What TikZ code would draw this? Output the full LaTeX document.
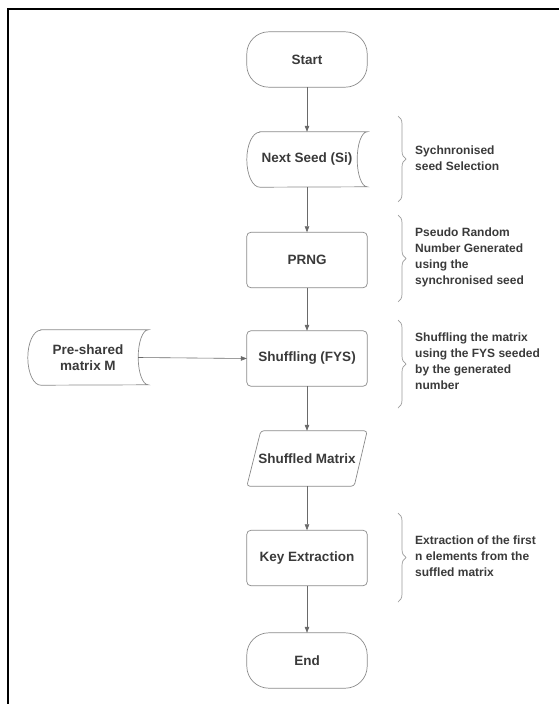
\documentclass[tikz,border=0pt]{standalone}
\usepackage{fontspec}
\setmainfont{Liberation Sans}
\usetikzlibrary{arrows.meta,decorations.pathreplacing,calc}
\definecolor{txt}{HTML}{3A3A3A}
\definecolor{edge}{HTML}{8A8A8A}
\definecolor{arr}{HTML}{6A6A6A}
\definecolor{brc}{HTML}{9A9A9A}
\tikzset{
  box/.style={draw=none,minimum width=120pt,minimum height=55pt,inner sep=0pt,
    font=\fontsize{13.5}{16}\selectfont\bfseries,text=txt,align=center},
  outline/.style={draw=edge,line width=0.7pt},
  flow/.style={draw=arr,line width=0.6pt,-{Triangle[length=6pt,width=4.5pt]}},
  bracestyle/.style={draw=brc,line width=0.7pt,decorate,decoration={brace,amplitude=8pt}},
  note/.style={anchor=west,inner sep=0pt,align=left,text=txt,
    font=\fontsize{12}{16}\selectfont\bfseries},
}
\begin{document}
\begin{tikzpicture}[x=1pt,y=-1pt]
\useasboundingbox (0,0) rectangle (559,704);
% frame
\draw[black,line width=1.8pt] (8,704) -- (8,9) -- (560,9);

% nodes
\node[box] (start) at (307,59.5) {Start};
\node[box] (seed) at (307,159.5) {Next Seed (Si)};
\node[box] (prng) at (307,260) {PRNG};
\node[box] (shuf) at (307,358.5) {Shuffling (FYS)};
\node[box] (pre) at (88,357.5) {Pre-shared\\matrix M};
\node[box] (smat) at (307,458.5) {Shuffled Matrix};
\node[box] (key) at (307,558) {Key Extraction};
\node[box] (end) at (307,660.5) {End};

% outlines
\draw[outline,rounded corners=22pt] (start.north west) rectangle (start.south east);
\draw[outline,rounded corners=22pt] (end.north west) rectangle (end.south east);
\draw[outline,rounded corners=4pt] (prng.north west) rectangle (prng.south east);
\draw[outline,rounded corners=4pt] (shuf.north west) rectangle (shuf.south east);
\draw[outline,rounded corners=4pt] (key.north west) rectangle (key.south east);
\draw[outline,rounded corners=3pt] ([xshift=14pt]smat.north west) -- (smat.north east)
  -- ([xshift=-13pt]smat.south east) -- (smat.south west) -- cycle;
\draw[outline] ([xshift=13pt]seed.north west) -- (seed.north east)
  arc[start angle=90,end angle=270,x radius=10pt,y radius=27.5pt]
  -- ([xshift=13pt]seed.south west)
  arc[start angle=270,end angle=90,x radius=13pt,y radius=27.5pt] -- cycle;
\draw[outline] ([xshift=13pt]pre.north west) -- (pre.north east)
  arc[start angle=90,end angle=270,x radius=10pt,y radius=27.5pt]
  -- ([xshift=13pt]pre.south west)
  arc[start angle=270,end angle=90,x radius=13pt,y radius=27.5pt] -- cycle;
\coordinate (preout) at ([xshift=-10pt]pre.east);

% connectors
\draw[flow] (start) -- (seed);
\draw[flow] (seed) -- (prng);
\draw[flow] (prng) -- (shuf);
\draw[flow] (preout) -- (shuf.west);
\draw[flow] (shuf) -- (smat);
\draw[flow] (smat) -- (key);
\draw[flow] (key) -- (end);

% braces
\draw[bracestyle] (398,116) -- (398,202);
\draw[bracestyle] (398,215) -- (398,302);
\draw[bracestyle] (398,320) -- (398,408);
\draw[bracestyle] (398,513) -- (398,602);

% notes
\node[note] (n1) at (415,158) {Sychnronised\\seed Selection};
\node[note] (n2) at (415,257) {Pseudo Random\\Number Generated\\using the\\synchronised seed};
\node[note] (n3) at (415,361) {Shuffling the matrix\\using the FYS seeded\\by the generated\\number};
\node[note] (n4) at (415,556) {Extraction of the first\\n elements from the\\suffled matrix};
\end{tikzpicture}
\end{document}
